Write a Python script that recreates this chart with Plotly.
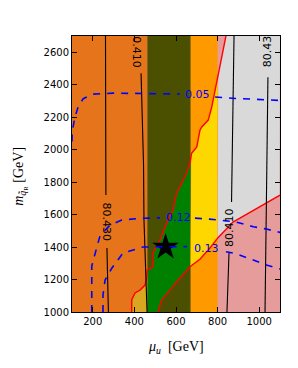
import numpy as np
import plotly.graph_objects as go

# ---------------- data ----------------
band_edges = [100, 462, 670, 800, 1100]
outside_colors = ["#E6741B", "#4B5000", "#FF9900", "#E79C9C"]
inside_colors = ["#DAA520", "#008000", "#FFD700", "#D9D9D9"]

# red boundary A (upper-left), listed by increasing y
redA_x = [387, 387, 403, 427, 451, 459, 462, 489, 489, 523, 555, 586, 603, 619,
          651, 667, 675, 700, 715, 724, 755, 772, 788, 802, 820, 840]
redA_y = [1000, 1074, 1117, 1135, 1166, 1210, 1258, 1277, 1363, 1443, 1548, 1628,
          1732, 1771, 1855, 1917, 1978, 2017, 2120, 2140, 2182, 2263, 2366, 2471,
          2594, 2700]
# red boundary B (lower-right), listed by increasing y
redB_x = [513, 531, 571, 603, 667, 715, 763, 802, 874, 956, 1037, 1100]
redB_y = [1000, 1074, 1135, 1186, 1279, 1325, 1394, 1458, 1554, 1615, 1677, 1720]

# black mW contours
mw1_x = [261, 263, 268, 275]
mw1_y = [2700, 1732, 1394, 1000]
mw2_x = [432, 444, 446, 461]
mw2_y = [2471, 1905, 1566, 1000]
mw3_x = [879, 869, 867, 855, 845]
mw3_y = [2700, 1812, 1677, 1369, 1000]
mw4_x = [1042, 1035, 1028]
mw4_y = [2446, 1720, 1000]
mw_labels = ["80.430", "0.410", "80.410", "80.43"]
mw_label_x = [265, 413, 857, 1037]
mw_label_y = [1556, 2600, 1520, 2606]
mw_label_angle = [90, 90, -90, -90]
mw1_gap = (1394, 1720)
mw3_gap = (1369, 1677)

# blue dashed contours
c005_x = [100, 101, 114, 130, 154, 201, 297, 591, 797, 888, 970, 1100]
c005_y = [2050, 2110, 2200, 2265, 2314, 2342, 2348, 2346, 2323, 2315, 2311, 2303]
c012_x = [195, 195, 219, 235, 283, 339, 427, 523, 691, 760, 884, 972, 1035, 1100]
c012_y = [1000, 1283, 1397, 1471, 1535, 1566, 1577, 1580, 1578, 1572, 1556, 1525,
          1511, 1490]
c013_x = [249, 249, 259, 292, 345, 393, 441, 509, 619, 744, 884, 946, 1035, 1100]
c013_y = [1000, 1105, 1197, 1271, 1363, 1382, 1400, 1402, 1406, 1394, 1361, 1332,
          1289, 1265]
blue_labels = ["0.05", "0.12", "0.13"]
blue_label_x = [703, 610, 746]
blue_label_y = [2342, 1585, 1394]
blue_gaps = [(619, 788), (523, 691), (653, 840)]

star_x = [550]
star_y = [1400]

x_range = [100, 1100]
y_range = [1000, 2700]
x_ticks = [200, 400, 600, 800, 1000]
y_ticks = [1000, 1200, 1400, 1600, 1800, 2000, 2200, 2400, 2600]


# ---------------- helpers ----------------
def inside_polygon(xl, xr, n=1400):
    yy = np.linspace(y_range[0], y_range[1], n)
    xa = np.interp(yy, redA_y, redA_x)
    xb = np.where(yy <= redB_y[-1], np.interp(yy, redB_y, redB_x), x_range[1])
    left = np.maximum(xa, xl)
    right = np.minimum(xb, xr)
    ok = left < right
    yv, l, r = yy[ok], left[ok], right[ok]
    return (np.concatenate([l, r[::-1]]).tolist(),
            np.concatenate([yv, yv[::-1]]).tolist())


def split_gap(u, v, lo, hi):
    """u is the monotonic coordinate; remove the part lo<u<hi."""
    u = np.asarray(u, float)
    v = np.asarray(v, float)
    order = np.argsort(u, kind="stable")
    u, v = u[order], v[order]
    vlo = float(np.interp(lo, u, v))
    vhi = float(np.interp(hi, u, v))
    ou = [float(a) for a in u if a < lo] + [lo, None, hi] + [float(a) for a in u if a > hi]
    ov = ([float(b) for a, b in zip(u, v) if a < lo] + [vlo, None, vhi]
          + [float(b) for a, b in zip(u, v) if a > hi])
    return ou, ov


fig = go.Figure()

# outside colours per band
for i in range(4):
    xl, xr = band_edges[i], band_edges[i + 1]
    xr2 = min(xr + 2, x_range[1])
    fig.add_trace(go.Scatter(x=[xl, xr2, xr2, xl, xl],
                             y=[y_range[0], y_range[0], y_range[1], y_range[1], y_range[0]],
                             mode="lines", fill="toself", fillcolor=outside_colors[i],
                             line=dict(width=0), hoverinfo="skip"))
# inside colours per band
for i in range(4):
    px, py = inside_polygon(band_edges[i], band_edges[i + 1])
    fig.add_trace(go.Scatter(x=px, y=py, mode="lines", fill="toself",
                             fillcolor=inside_colors[i], line=dict(width=0),
                             hoverinfo="skip"))

# red boundaries
for rx, ry in [(redA_x, redA_y), (redB_x, redB_y)]:
    fig.add_trace(go.Scatter(x=rx, y=ry, mode="lines",
                             line=dict(color="#FF0000", width=1.4)))

# black mW contours
ly1, lx1 = split_gap(mw1_y, mw1_x, *mw1_gap)
ly3, lx3 = split_gap(mw3_y, mw3_x, *mw3_gap)
for bx, by in [(lx1, ly1), (mw2_x, mw2_y), (lx3, ly3), (mw4_x, mw4_y)]:
    fig.add_trace(go.Scatter(x=bx, y=by, mode="lines",
                             line=dict(color="black", width=1.1)))

# star
fig.add_trace(go.Scatter(x=star_x, y=star_y, mode="markers",
                         marker=dict(symbol="star", size=20, color="black",
                                     line=dict(width=0))))

# blue dashed contours
for (cx, cy), gap in zip([(c005_x, c005_y), (c012_x, c012_y), (c013_x, c013_y)], blue_gaps):
    gx, gy = split_gap(cx, cy, *gap)
    fig.add_trace(go.Scatter(x=gx, y=gy, mode="lines",
                             line=dict(color="#0000FF", width=1.6, dash="7px,7px")))

annotations = []
for t, x, y, a in zip(mw_labels, mw_label_x, mw_label_y, mw_label_angle):
    annotations.append(dict(x=x, y=y, xref="x", yref="y", text=t, showarrow=False,
                            textangle=a, font=dict(family="DejaVu Sans", size=11,
                                                   color="black")))
for t, x, y in zip(blue_labels, blue_label_x, blue_label_y):
    annotations.append(dict(x=x, y=y, xref="x", yref="y", text=t, showarrow=False,
                            font=dict(family="DejaVu Sans", size=11, color="#0000FF")))

annotations.append(dict(x=0.498, y=-0.127, xref="paper", yref="paper",
                        text="<i>μ</i><sub><i>u</i></sub>  [GeV]", showarrow=False,
                        xanchor="center", yanchor="middle",
                        font=dict(family="Liberation Serif", size=14, color="black")))
annotations.append(dict(x=-0.25, y=0.49, xref="paper", yref="paper",
                        text="<i>m</i><sub><i>q̃</i><sub>R</sub></sub> [GeV]",
                        showarrow=False, textangle=-90,
                        xanchor="center", yanchor="middle",
                        font=dict(family="Liberation Serif", size=14, color="black")))

axis_common = dict(showline=True, linecolor="black", linewidth=1, mirror="ticks",
                   ticks="inside", ticklen=5, tickcolor="black", tickwidth=1,
                   showgrid=False, zeroline=False,
                   tickfont=dict(family="DejaVu Sans", size=10, color="black"))

fig.update_layout(
    width=298, height=368,
    margin=dict(l=72, r=18, t=36, b=56),
    paper_bgcolor="white", plot_bgcolor="white",
    showlegend=False,
    xaxis=dict(range=x_range, tickvals=x_ticks, **axis_common),
    yaxis=dict(range=y_range, tickvals=y_ticks, **axis_common),
    annotations=annotations,
)

fig.write_html("out.html", config={"displayModeBar": False},
               post_script="document.body.style.margin='0';document.body.style.padding='0';")
